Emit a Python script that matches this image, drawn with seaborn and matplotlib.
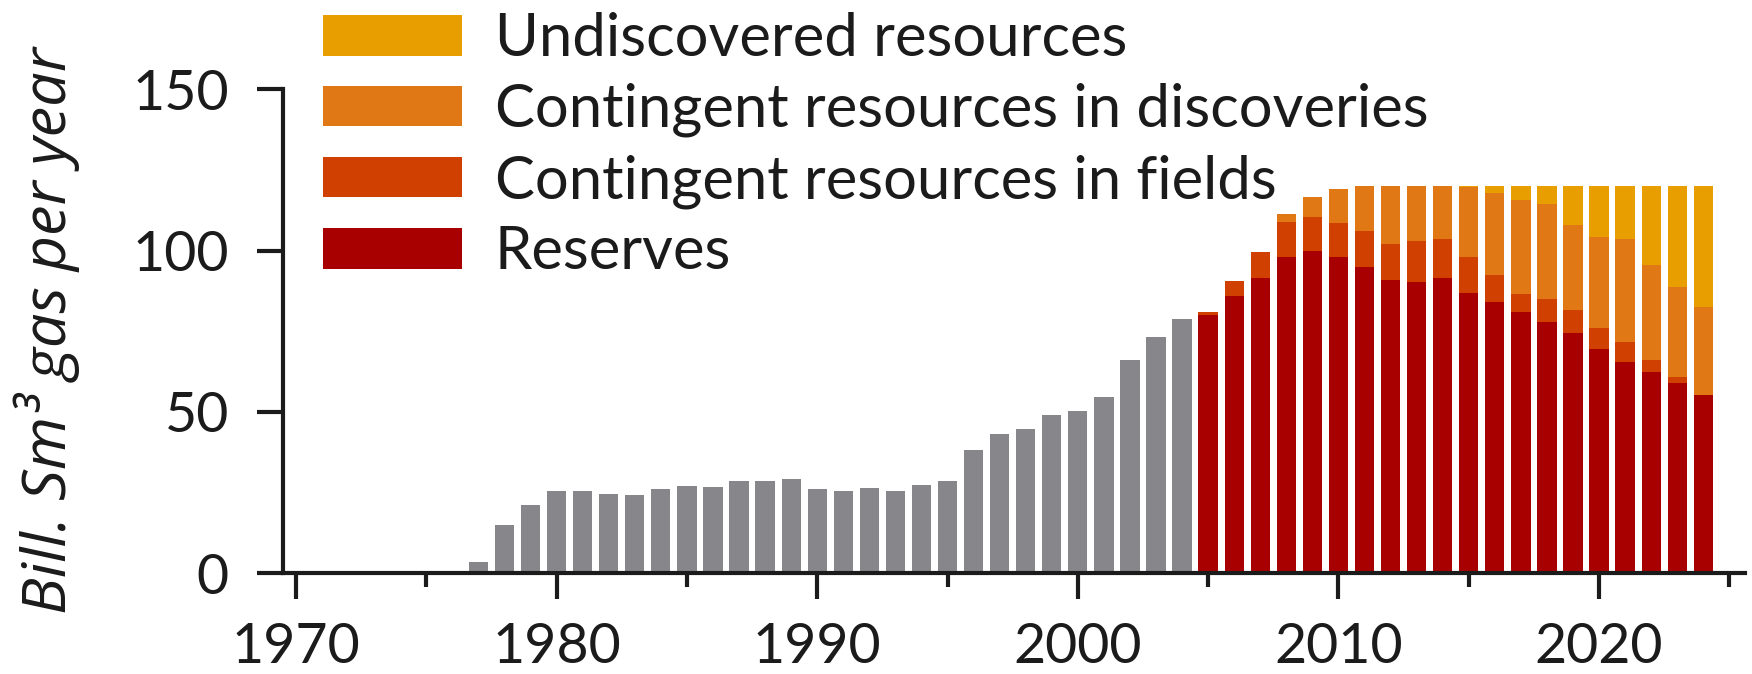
"""
Gas sales from the shelf: history (grey) and forecast split by resource class.
Writes out.png.
"""
import matplotlib
matplotlib.use("Agg")
import matplotlib.pyplot as plt
from matplotlib.patches import Patch
import numpy as np
import seaborn as sns

# history, 1977-2004
hist_years = list(range(1977, 2005))
hist_gas = [3.5, 14.9, 21.3, 25.5, 25.5, 24.7, 24.2, 26.2, 27.0, 26.7,
            28.7, 28.7, 29.3, 26.2, 25.5, 26.3, 25.5, 27.5, 28.6, 38.1,
            43.3, 44.6, 49.0, 50.4, 54.5, 66.0, 73.2, 78.8]

# forecast, 2005-2024
fc_years = list(range(2005, 2025))
reserves = [80.1, 86.0, 91.5, 97.9, 100.0, 98.1, 94.8, 90.8, 90.2, 91.5,
            86.8, 84.0, 80.9, 77.8, 74.4, 69.5, 65.5, 62.4, 59.1, 55.2]
cont_fields = [0.8, 4.6, 8.1, 10.9, 10.4, 10.5, 11.4, 11.4, 12.9, 12.2,
               11.1, 8.3, 5.6, 7.2, 7.2, 6.4, 6.3, 3.7, 1.6, 0.0]
cont_discoveries = [0.0, 0.0, 0.0, 2.6, 6.3, 10.4, 13.8, 17.8, 16.9, 16.3,
                    21.8, 25.6, 29.3, 29.3, 26.2, 28.2, 31.8, 29.3, 28.0, 27.3]
undiscovered = [0.0, 0.0, 0.0, 0.0, 0.0, 0.0, 0.0, 0.0, 0.0, 0.0,
                0.3, 2.1, 4.2, 5.7, 12.2, 15.9, 16.4, 24.6, 31.3, 37.5]

labels = ["Undiscovered resources", "Contingent resources in discoveries",
          "Contingent resources in fields", "Reserves"]
colors = ["#e99e00", "#e07815", "#d04000", "#a80000"]
grey = "#87868a"
ink = "#1b1b1b"

FS = 40
LEG_FS = 43

sns.set_style("ticks")
plt.rcParams["font.family"] = ["Lato", "DejaVu Sans"]
plt.rcParams["text.color"] = ink
plt.rcParams["axes.edgecolor"] = ink
plt.rcParams["xtick.color"] = ink
plt.rcParams["ytick.color"] = ink

fig = plt.figure(figsize=(17.52, 6.74), dpi=100)
ax = fig.add_axes([0.1615, 0.1494, 0.8345, 0.7181])

BAR_W = 0.74
sns.barplot(x=hist_years, y=hist_gas, native_scale=True, width=BAR_W,
            color=grey, saturation=1, errorbar=None, linewidth=0, ax=ax)

# stacked forecast: draw cumulative totals, top layer first
layers = np.vstack([reserves, cont_fields, cont_discoveries, undiscovered])
cum = np.cumsum(layers, axis=0)
for i in range(3, -1, -1):
    sns.barplot(x=fc_years, y=cum[i], native_scale=True, width=BAR_W,
                color=colors[3 - i], saturation=1, errorbar=None,
                linewidth=0, ax=ax)

ax.set_xlim(1969.5, 2025.6)
ax.set_ylim(0, 150)
ax.set_xticks(range(1970, 2021, 10), labels=[str(y) for y in range(1970, 2021, 10)])
ax.set_xticks(range(1975, 2026, 10), minor=True)
ax.set_yticks([0, 50, 100, 150], labels=["0", "50", "100", "150"])
ax.set_xlabel("")
ax.set_ylabel("")

sns.despine(ax=ax)
for side in ["left", "bottom"]:
    ax.spines[side].set_linewidth(3)
ax.tick_params(axis="both", which="major", direction="out", width=3,
               length=19, labelsize=FS)
ax.tick_params(axis="x", which="major", pad=16)
ax.tick_params(axis="y", which="major", pad=20)
ax.tick_params(axis="x", which="minor", direction="out", width=3, length=10)

fig.text(47 / 1752, 1 - 331 / 674, "Bill. Sm³ gas per year", rotation=90,
         ha="center", va="center", fontsize=44, style="italic",
         family=["Open Sans", "DejaVu Sans"])

handles = [Patch(facecolor=c, edgecolor="none", label=l) for c, l in zip(colors, labels)]
fig.legend(handles=handles, loc="upper left", bbox_to_anchor=(323 / 1752, 0.982),
           frameon=False, fontsize=LEG_FS, handlelength=2.33, handleheight=0.67,
           handletextpad=0.55, labelspacing=0.28, borderpad=0, borderaxespad=0)

fig.savefig("out.png", dpi=100)
